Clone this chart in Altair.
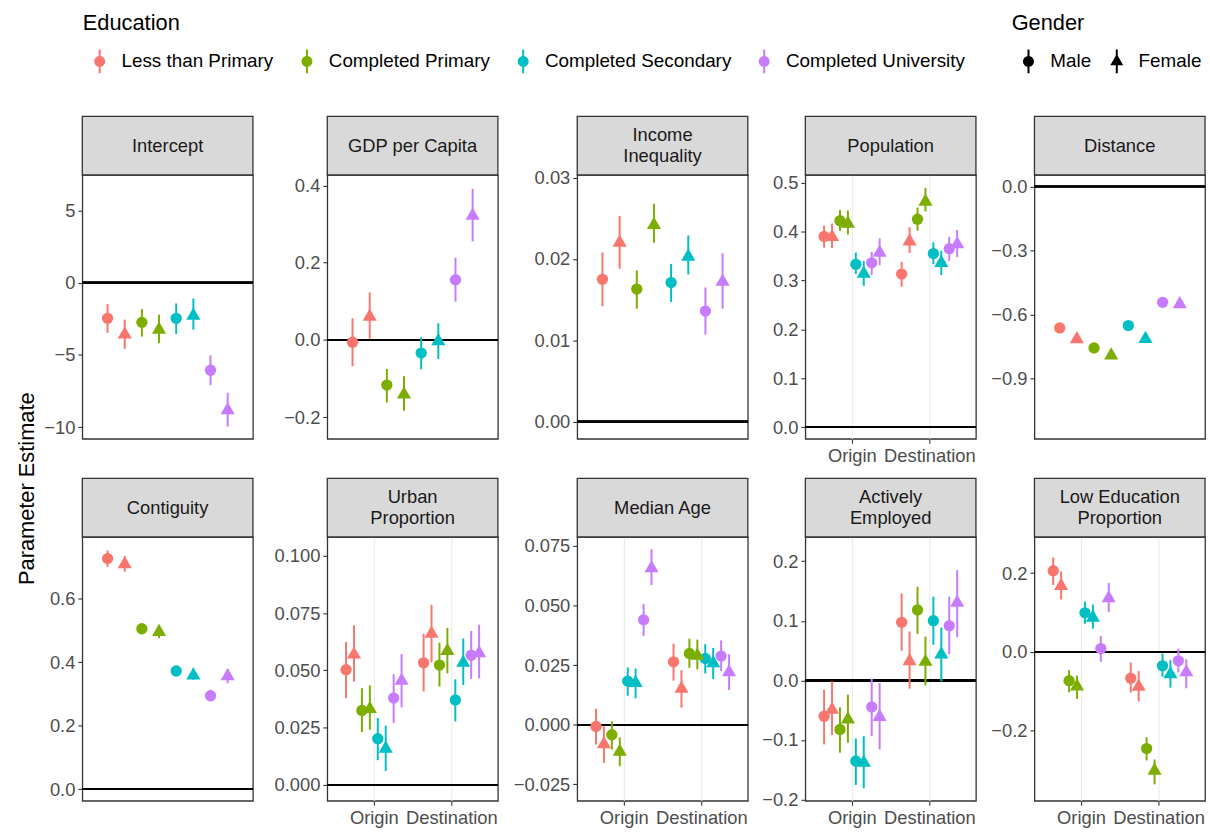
import json

import altair as alt
import pandas as pd

EDUCATION = ["Less than Primary", "Completed Primary", "Completed Secondary", "Completed University"]
GENDER = ["Male", "Female"]
SIDES = ["Origin", "Destination"]
PALETTE = ["#F8766D", "#7CAE00", "#00BFC4", "#C77CFF"]

# Parameter estimates with interval bounds.
# Order inside every term: each education level, Male then Female.
# Origin/Destination terms list the Origin block first, then the Destination block.
intercept_est = [-2.47, -3.59, -2.75, -3.26, -2.47, -2.29, -6.06, -8.82]
intercept_lo = [-3.48, -4.58, -3.73, -4.19, -3.55, -3.25, -7.09, -9.95]
intercept_hi = [-1.49, -2.56, -1.83, -2.22, -1.44, -1.10, -5.03, -7.62]

gdp_est = [-0.006, 0.060, -0.117, -0.141, -0.034, -0.003, 0.156, 0.322]
gdp_lo = [-0.068, 0.003, -0.162, -0.183, -0.076, -0.049, 0.099, 0.255]
gdp_hi = [0.056, 0.123, -0.075, -0.094, 0.007, 0.043, 0.213, 0.391]

ineq_est = [0.0175, 0.0220, 0.0163, 0.0242, 0.0171, 0.0203, 0.0136, 0.0172]
ineq_lo = [0.0142, 0.0188, 0.0139, 0.0220, 0.0147, 0.0181, 0.0107, 0.0139]
ineq_hi = [0.0208, 0.0253, 0.0186, 0.0268, 0.0194, 0.0229, 0.0165, 0.0207]

pop_est = [0.390, 0.389, 0.422, 0.416, 0.333, 0.314, 0.336, 0.357,
           0.313, 0.380, 0.425, 0.461, 0.355, 0.336, 0.365, 0.374]
pop_lo = [0.367, 0.366, 0.401, 0.394, 0.313, 0.289, 0.311, 0.331,
          0.287, 0.356, 0.402, 0.441, 0.333, 0.311, 0.340, 0.348]
pop_hi = [0.412, 0.416, 0.444, 0.443, 0.357, 0.340, 0.358, 0.386,
          0.338, 0.409, 0.449, 0.489, 0.378, 0.361, 0.389, 0.403]

dist_est = [-0.663, -0.716, -0.757, -0.792, -0.652, -0.715, -0.543, -0.552]
dist_lo = [-0.675, -0.728, -0.769, -0.804, -0.664, -0.727, -0.555, -0.564]
dist_hi = [-0.651, -0.704, -0.745, -0.780, -0.640, -0.703, -0.531, -0.540]

contig_est = [0.727, 0.709, 0.506, 0.496, 0.373, 0.359, 0.295, 0.356]
contig_lo = [0.701, 0.686, 0.488, 0.476, 0.355, 0.345, 0.277, 0.334]
contig_hi = [0.753, 0.735, 0.522, 0.518, 0.389, 0.380, 0.313, 0.378]

urban_est = [0.0503, 0.0569, 0.0325, 0.0332, 0.0202, 0.0158, 0.0379, 0.0455,
             0.0533, 0.0660, 0.0523, 0.0585, 0.0371, 0.0533, 0.0566, 0.0575]
urban_lo = [0.0379, 0.0451, 0.0231, 0.0241, 0.0108, 0.0061, 0.0270, 0.0338,
            0.0408, 0.0535, 0.0429, 0.0487, 0.0277, 0.0436, 0.0462, 0.0465]
urban_hi = [0.0624, 0.0697, 0.0422, 0.0434, 0.0292, 0.0259, 0.0483, 0.0571,
            0.0660, 0.0786, 0.0621, 0.0685, 0.0461, 0.0639, 0.0672, 0.0699]

age_est = [-0.0007, -0.0081, -0.0042, -0.0113, 0.0183, 0.0175, 0.0440, 0.0657,
           0.0264, 0.0151, 0.0299, 0.0290, 0.0278, 0.0258, 0.0288, 0.0221]
age_lo = [-0.0083, -0.0160, -0.0104, -0.0174, 0.0122, 0.0111, 0.0372, 0.0586,
          0.0185, 0.0072, 0.0239, 0.0232, 0.0215, 0.0192, 0.0225, 0.0146]
age_hi = [0.0067, -0.0007, 0.0014, -0.0053, 0.0240, 0.0236, 0.0507, 0.0736,
          0.0340, 0.0229, 0.0361, 0.0357, 0.0338, 0.0322, 0.0354, 0.0296]

emp_est = [-0.0602, -0.0490, -0.0825, -0.0657, -0.1354, -0.1382, -0.0446, -0.0613,
           0.0975, 0.0323, 0.1181, 0.0312, 0.1003, 0.0435, 0.0919, 0.1304]
emp_lo = [-0.1075, -0.0919, -0.1214, -0.1047, -0.1755, -0.1810, -0.0936, -0.1159,
          0.0496, -0.0139, 0.0780, -0.0084, 0.0596, -0.0017, 0.0440, 0.0724]
emp_hi = [-0.0156, -0.0017, -0.0451, -0.0240, -0.0975, -0.0936, 0.0028, -0.0045,
          0.1460, 0.0819, 0.1571, 0.0735, 0.1404, 0.0886, 0.1404, 0.1850]

lowed_est = [0.2059, 0.1672, -0.0731, -0.0874, 0.0992, 0.0866, 0.0084, 0.1361,
             -0.0672, -0.0882, -0.2454, -0.3017, -0.0353, -0.0563, -0.0227, -0.0513]
lowed_lo = [0.1697, 0.1328, -0.1025, -0.1193, 0.0714, 0.0588, -0.0252, 0.1008,
            -0.1034, -0.1260, -0.2756, -0.3361, -0.0630, -0.0908, -0.0521, -0.0924]
lowed_hi = [0.2395, 0.2042, -0.0462, -0.0605, 0.1277, 0.1202, 0.0403, 0.1748,
            -0.0269, -0.0487, -0.2168, -0.2731, -0.0042, -0.0210, 0.0084, -0.0185]

# Per-term axis set-up: value range shown, labelled ticks, minor grid lines, label format
TERMS = [
    dict(name="Intercept", est=intercept_est, lo=intercept_lo, hi=intercept_hi,
         domain=[-10.8, 7.44], major=[-10, -5, 0, 5], minor=[-7.5, -2.5, 2.5], fmt="d"),
    dict(name="GDP per Capita", est=gdp_est, lo=gdp_lo, hi=gdp_hi,
         domain=[-0.256, 0.427], major=[-0.2, 0.0, 0.2, 0.4], minor=[-0.1, 0.1, 0.3], fmt=".1f"),
    dict(name="Income\nInequality", est=ineq_est, lo=ineq_lo, hi=ineq_hi,
         domain=[-0.00211, 0.03033], major=[0.0, 0.01, 0.02, 0.03], minor=[0.005, 0.015, 0.025], fmt=".2f"),
    dict(name="Population", est=pop_est, lo=pop_lo, hi=pop_hi,
         domain=[-0.0236, 0.5155], major=[0.0, 0.1, 0.2, 0.3, 0.4, 0.5],
         minor=[0.05, 0.15, 0.25, 0.35, 0.45], fmt=".1f"),
    dict(name="Distance", est=dist_est, lo=dist_lo, hi=dist_hi,
         domain=[-1.183, 0.054], major=[-0.9, -0.6, -0.3, 0.0], minor=[-1.05, -0.75, -0.45, -0.15], fmt=".1f"),
    dict(name="Contiguity", est=contig_est, lo=contig_lo, hi=contig_hi,
         domain=[-0.0365, 0.795], major=[0.0, 0.2, 0.4, 0.6], minor=[0.1, 0.3, 0.5, 0.7], fmt=".1f"),
    dict(name="Urban\nProportion", est=urban_est, lo=urban_lo, hi=urban_hi,
         domain=[-0.00694, 0.1082], major=[0.0, 0.025, 0.05, 0.075, 0.1],
         minor=[0.0125, 0.0375, 0.0625, 0.0875], fmt=".3f"),
    dict(name="Median Age", est=age_est, lo=age_lo, hi=age_hi,
         domain=[-0.0319, 0.07875], major=[-0.025, 0.0, 0.025, 0.05, 0.075],
         minor=[-0.0125, 0.0125, 0.0375, 0.0625], fmt=".3f"),
    dict(name="Actively\nEmployed", est=emp_est, lo=emp_lo, hi=emp_hi,
         domain=[-0.2022, 0.2407], major=[-0.2, -0.1, 0.0, 0.1, 0.2],
         minor=[-0.15, -0.05, 0.05, 0.15], fmt=".1f"),
    dict(name="Low Education\nProportion", est=lowed_est, lo=lowed_lo, hi=lowed_hi,
         domain=[-0.378, 0.2916], major=[-0.2, 0.0, 0.2], minor=[-0.3, -0.1, 0.1], fmt=".1f"),
]

FONT = "Liberation Sans"
PANEL_W, PANEL_H, STRIP_H = 172, 266, 59
ROW1_AXIS_EXTENT = 37
Y_AXIS_EXTENT = [None, 67, 72, 50, 51]
# dodge step between the eight education x gender positions, in x units
DODGE_TWO_SIDED = 0.1023
DODGE_SINGLE = 0.1207

# Glyphs: triangle with its centroid on the data point; legend keys carry a vertical range line
TRIANGLE = "M0,-1.443L1.25,0.722L-1.25,0.722Z"
KEY_LINE = "M-0.059,-0.706L0.059,-0.706L0.059,0.706L-0.059,0.706Z"
KEY_DOT = KEY_LINE + " M0.324,0A0.324,0.324,0,1,1,-0.324,0A0.324,0.324,0,1,1,0.324,0Z"
KEY_TRI = KEY_LINE + " M0,-0.441L0.382,0.221L-0.382,0.221Z"

LEGEND_Y = -163
EDU_LEGEND = alt.Legend(
    title="Education", orient="none", legendX=0.5, legendY=LEGEND_Y, direction="horizontal",
    symbolType=KEY_DOT, symbolSize=1156, symbolStrokeWidth=0, symbolOpacity=1,
    labelFontSize=19, labelColor="black", labelOffset=5, labelLimit=400, columnPadding=16,
    titleFontSize=22, titleFontWeight="normal", titleColor="black", titlePadding=9,
)
GENDER_LEGEND = alt.Legend(
    title="Gender", orient="none", legendX=937, legendY=LEGEND_Y, direction="horizontal",
    symbolSize=1156, symbolStrokeWidth=0, symbolOpacity=1, symbolFillColor="black",
    labelFontSize=19, labelColor="black", labelOffset=5, labelLimit=400, columnPadding=8,
    titleFontSize=22, titleFontWeight="normal", titleColor="black", titlePadding=9,
)
COLOR = alt.Color("education:N", scale=alt.Scale(domain=EDUCATION, range=PALETTE), legend=EDU_LEGEND)


def term_frame(term, two_sided):
    sides = SIDES if two_sided else ["All"]
    rows, k = [], 0
    for s_i, side in enumerate(sides):
        slot = 0
        for edu in EDUCATION:
            for g in GENDER:
                rows.append({"side": side, "side_idx": s_i + 1, "slot_idx": slot,
                             "education": edu, "gender": g,
                             "est": term["est"][k], "lo": term["lo"][k], "hi": term["hi"][k]})
                k += 1
                slot += 1
    return pd.DataFrame(rows)


def y_axis(term, extent):
    test = f"indexof({json.dumps(term['major'])}, datum.value) >= 0"
    kw = dict(
        values=term["major"] + term["minor"], format=term["fmt"], title=None,
        labelExpr=f"{test} ? datum.label : ''",
        tickOpacity={"condition": {"test": test, "value": 1}, "value": 0},
        gridWidth={"condition": {"test": test, "value": 1.1}, "value": 0.6},
    )
    if extent is not None:
        kw.update(minExtent=extent, maxExtent=extent)
    return alt.Axis(**kw)


def panel(term, col, top_row, with_key=False):
    two_sided = len(term["est"]) == 16
    df = term_frame(term, two_sided)
    ax_kw = dict(minExtent=ROW1_AXIS_EXTENT, maxExtent=ROW1_AXIS_EXTENT) if top_row else {}
    if two_sided:
        x_dom, step = [0.4, 2.6], DODGE_TWO_SIDED
        x_axis = alt.Axis(values=[1, 2], labelExpr=f"{json.dumps(SIDES)}[datum.value - 1]",
                          grid=True, gridWidth=1.1, title=None, domain=False, labelAngle=0, **ax_kw)
    else:
        x_dom, step = [0.4, 1.6], DODGE_SINGLE
        x_axis = alt.Axis(labels=False, ticks=False, grid=False, domain=False, title=None, **ax_kw)
    x = alt.X("xpos:Q", scale=alt.Scale(domain=x_dom, nice=False, zero=False), axis=x_axis)
    y_scale = alt.Scale(domain=term["domain"], nice=False, zero=False)
    yax = y_axis(term, Y_AXIS_EXTENT[col])

    base = alt.Chart(df).transform_calculate(
        xpos=f"datum.side_idx + (datum.slot_idx - 3.5) * {step}"
    )
    zero = alt.Chart(df).mark_rule(color="black", strokeWidth=1.7).encode(
        y=alt.datum(0, scale=y_scale, axis=yax)
    )
    male = base.transform_filter(alt.datum.gender == "Male").mark_point(
        filled=True, shape="circle", size=130, opacity=1
    ).encode(x=x, y=alt.Y("est:Q", scale=y_scale, axis=yax), color=COLOR)
    female = base.transform_filter(alt.datum.gender == "Female").mark_point(
        filled=True, shape=TRIANGLE, size=130, opacity=1
    ).encode(x=x, y=alt.Y("est:Q", scale=y_scale, axis=yax), color=COLOR)
    bars = base.mark_rule(strokeWidth=2).encode(
        x=x, y=alt.Y("lo:Q", scale=y_scale, axis=yax), y2="hi:Q", color=COLOR
    )

    # facet strip above the panel
    label_df = pd.DataFrame({"label": [term["name"]]})
    n_lines = term["name"].count("\n") + 1
    strip_box = alt.Chart(label_df).mark_rect(
        fill="#d9d9d9", stroke="#333333", strokeWidth=1.3
    ).encode(x=alt.value(0), x2=alt.value(PANEL_W), y=alt.value(-STRIP_H), y2=alt.value(0))
    strip_text = alt.Chart(label_df).mark_text(
        font=FONT, fontSize=18.5, color="#1a1a1a", lineBreak="\n", lineHeight=21,
        align="center", baseline="middle", dy=-(n_lines - 1) * 10.5,
    ).encode(text="label:N", x=alt.value(PANEL_W / 2), y=alt.value(-STRIP_H / 2))

    layers = [zero, male, female, bars, strip_box, strip_text]
    if with_key:
        # carries the Gender legend (range glyphs for the two sexes)
        layers.append(
            alt.Chart(pd.DataFrame({"gender": GENDER})).mark_point(
                filled=True, color="black", opacity=0
            ).encode(shape=alt.Shape("gender:N",
                                     scale=alt.Scale(domain=GENDER, range=[KEY_DOT, KEY_TRI]),
                                     legend=GENDER_LEGEND))
        )
    return alt.layer(*layers).properties(
        width=PANEL_W, height=PANEL_H,
        view=alt.ViewBackground(fill="white", stroke="#333333", strokeWidth=1.3),
    )


cells = []
for i, t in enumerate(TERMS):
    cells.append(panel(t, i % 5, top_row=(i < 5), with_key=(i == 0)))

chart = alt.concat(
    *cells, columns=5, spacing={"row": 0, "column": 5}, align="each", bounds="full",
    padding={"left": 16, "top": 10, "right": 3, "bottom": 0},
    title=alt.TitleParams("Parameter Estimate", orient="left", anchor="middle", fontSize=22,
                          fontWeight="normal", color="black", font=FONT, offset=4, dx=-69),
).configure(font=FONT, background="white").configure_axis(
    labelFont=FONT, labelFontSize=18.5, labelColor="#4d4d4d", tickColor="#333333",
    tickSize=4.5, tickWidth=1.1, gridColor="#ebebeb", labelPadding=3, domain=False, titleFont=FONT,
).configure_legend(labelFont=FONT, titleFont=FONT)

chart.save("out.html", embed_options={"renderer": "svg", "actions": False})
